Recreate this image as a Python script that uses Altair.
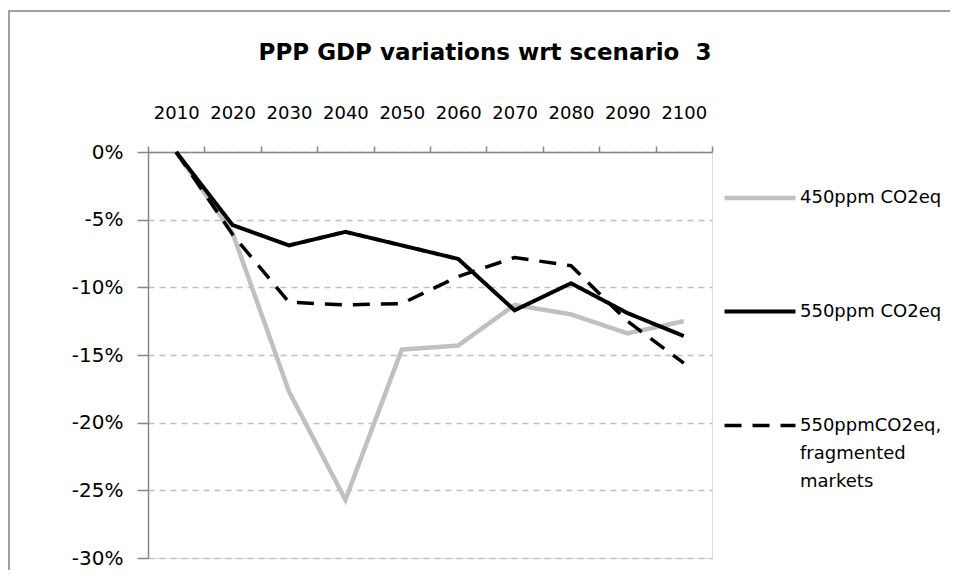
import altair as alt
import pandas as pd

years = ["2010", "2020", "2030", "2040", "2050", "2060", "2070", "2080", "2090", "2100"]
s450 = [0.0, -6.0, -17.7, -25.7, -14.6, -14.3, -11.3, -12.0, -13.4, -12.5]
s550 = [0.0, -5.4, -6.9, -5.9, -6.9, -7.9, -11.7, -9.7, -11.9, -13.6]
s550f = [0.0, -6.1, -11.1, -11.3, -11.2, -9.2, -7.8, -8.4, -12.5, -15.6]
series_names = ["450ppm CO2eq", "550ppm CO2eq", "550ppmCO2eq, fragmented markets"]
y_ticks = [0, -5, -10, -15, -20, -25, -30]

rows = []
for name, vals in zip(series_names, [s450, s550, s550f]):
    for yr, v in zip(years, vals):
        rows.append({"year": yr, "value": v, "series": name})
df = pd.DataFrame(rows)

FONT = "DejaVu Sans"
AXIS_GRAY = "#868686"
FRAME_GRAY = "#a0a0a0"

color_scale = alt.Scale(domain=series_names, range=["#c0c0c0", "#000000", "#000000"])
dash_scale = alt.Scale(domain=series_names, range=[[1, 0], [1, 0], [17, 11]])
width_scale = alt.Scale(domain=series_names, range=[4.5, 3.5, 3.5])

legend = alt.Legend(
    title=None,
    orient="none",
    legendX=574,
    legendY=8,
    symbolType="stroke",
    symbolSize=5041,
    symbolStrokeWidth=3.5,
    rowPadding=67,
    labelFont=FONT,
    labelFontSize=18,
    labelColor="#000000",
    labelOffset=2,
    labelLimit=300,
    labelExpr="datum.label == '550ppmCO2eq, fragmented markets' ? ['550ppmCO2eq,', 'fragmented', 'markets'] : datum.label",
)

lines = alt.Chart(df).mark_line(strokeJoin="miter").encode(
    x=alt.X(
        "year:O",
        bandPosition=0.5,
        sort=years,
        scale=alt.Scale(type="band", paddingInner=0, paddingOuter=0),
        axis=alt.Axis(
            orient="top",
            title=None,
            labelAngle=0,
            tickBand="extent",
            tickSize=6,
            tickColor=AXIS_GRAY,
            domainColor=AXIS_GRAY,
            domainWidth=1.5,
            tickWidth=1.5,
            labelPadding=24,
            labelFont=FONT,
            labelFontSize=18,
            labelColor="#000000",
            grid=False,
        ),
    ),
    y=alt.Y(
        "value:Q",
        scale=alt.Scale(domain=[-30, 0], nice=False),
        axis=alt.Axis(
            title=None,
            values=y_ticks,
            labelExpr="datum.value + '%'",
            tickSize=11,
            tickWidth=1.5,
            tickColor=AXIS_GRAY,
            domainColor=AXIS_GRAY,
            domainWidth=1.5,
            labelPadding=14,
            labelFont=FONT,
            labelFontSize=20,
            labelColor="#000000",
            grid=True,
            gridDash=[6, 5],
            gridColor="#c0c0c0",
            gridWidth=1.5,
        ),
    ),
    color=alt.Color("series:N", scale=color_scale, sort=series_names, legend=legend),
    strokeDash=alt.StrokeDash("series:N", scale=dash_scale, sort=series_names, legend=legend),
    strokeWidth=alt.StrokeWidth("series:N", scale=width_scale, sort=series_names, legend=None),
)

frame_left = alt.Chart(alt.Data(values=[{}])).mark_rule(
    stroke=FRAME_GRAY, strokeWidth=2
).encode(
    x=alt.value(-139),
    y=alt.value(-141),
    y2=alt.value(600),
)

frame_top = alt.Chart(alt.Data(values=[{}])).mark_rule(
    stroke=FRAME_GRAY, strokeWidth=2
).encode(
    x=alt.value(-140),
    x2=alt.value(900),
    y=alt.value(-141),
)

chart = alt.layer(frame_left, frame_top, lines).properties(
    width=564,
    height=406,
    autosize=alt.AutoSizeParams(type="none"),
    padding={"left": 140, "top": 144, "right": 238, "bottom": 12},
    title=alt.TitleParams(
        "PPP GDP variations wrt scenario\u00a0 3",
        font=FONT,
        fontSize=23,
        fontWeight="bold",
        color="#000000",
        anchor="middle",
        frame="group",
        dx=55,
        offset=-55,
    ),
).configure_view(stroke=None).configure(
    style={"guide-label": {"lineHeight": 28}}
)

chart.save("out.html", embed_options={"renderer": "svg", "actions": False})
